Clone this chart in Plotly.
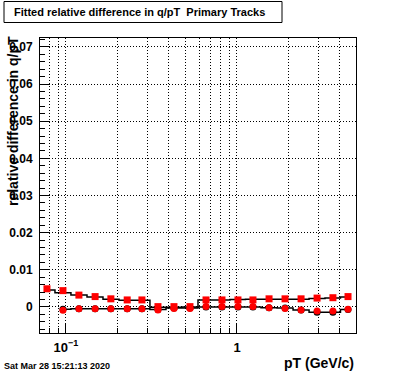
import plotly.graph_objects as go

# pT bin centres (GeV/c)
pt_sq = [0.0774, 0.096, 0.119, 0.148, 0.183, 0.228, 0.278, 0.345, 0.428, 0.531,
         0.659, 0.817, 1.013, 1.24, 1.54, 1.91, 2.37, 2.94, 3.64, 4.46]
pt_ci = pt_sq[1:]

# relative difference values
red_sq = [0.0049, 0.0044, 0.0032, 0.0028, 0.0022, 0.0019, 0.0019, 0.0001, 0.0001, 0.0001,
          0.0019, 0.0019, 0.0019, 0.0019, 0.0022, 0.0022, 0.0022, 0.0024, 0.0025, 0.0028]
blk_sq = [0.0046, 0.0038, 0.0032, 0.0027, 0.0021, 0.0018, 0.0018, -0.0001, -0.0001, 0.0000,
          0.0019, 0.0019, 0.0020, 0.0021, 0.0021, 0.0021, 0.0021, 0.0023, 0.0024, 0.0027]
red_ci = [-0.0009, -0.0005, -0.0005, -0.0005, -0.0005, -0.0005, -0.0008, -0.0004, -0.0004,
          0.0001, 0.0001, 0.0001, 0.0001, -0.0002, -0.0004, -0.0008, -0.0011, -0.0011, -0.0006]
blk_ci = [-0.0006, -0.0005, -0.0005, -0.0005, -0.0005, -0.0005, -0.0007, -0.0003, -0.0003,
          0.0000, 0.0000, 0.0000, 0.0000, -0.0002, -0.0003, -0.0008, -0.0014, -0.0014, -0.0007]

x_major = [0.1, 1]
x_major_text = ["10<sup>\u22121</sup>", "1"]
x_minor = [0.08, 0.09, 0.2, 0.3, 0.4, 0.5, 0.6, 0.7, 0.8, 0.9, 2, 3, 4]
y_major = [0, 0.01, 0.02, 0.03, 0.04, 0.05, 0.06, 0.07]
y_major_text = ["0", "0.01", "0.02", "0.03", "0.04", "0.05", "0.06", "0.07"]

title_text = "Fitted relative difference in q/pT\u00a0\u00a0Primary Tracks"
ytitle_text = "relative difference in q/pT"
xtitle_text = "pT (GeV/c)"
date_text = "Sat Mar 28 15:21:13 2020"

FONT = "Liberation Sans, Arial, Helvetica, sans-serif"
DOT = "1px,2px"

fig = go.Figure()
fig.add_trace(go.Scatter(x=pt_sq, y=blk_sq, mode="lines", line=dict(color="black", width=1.5, shape="hvh"),
                         showlegend=False, hoverinfo="skip"))
fig.add_trace(go.Scatter(x=pt_ci, y=blk_ci, mode="lines+markers", line=dict(color="black", width=1.5, shape="hvh"),
                         marker=dict(symbol="circle", size=7, color="black"),
                         showlegend=False, hoverinfo="skip"))
fig.add_trace(go.Scatter(x=pt_sq, y=red_sq, mode="markers",
                         marker=dict(symbol="square", size=7, color="#ff0000"), showlegend=False))
fig.add_trace(go.Scatter(x=pt_ci, y=red_ci, mode="markers",
                         marker=dict(symbol="circle", size=7, color="#ff0000"), showlegend=False))

W, H = 396, 372
L, R, T, B = 40, 40, 38, 39
pw, ph = W - L - R, H - T - B

def px(xp):
    return (xp - L) / pw

def py(yp):
    return (H - B - yp) / ph

fig.update_layout(
    width=W, height=H,
    margin=dict(l=L, r=R, t=T, b=B, pad=0, autoexpand=False),
    paper_bgcolor="white", plot_bgcolor="white",
    font=dict(family=FONT, color="black"),
    xaxis=dict(type="log", range=[-1.152, 0.696], automargin=False,
               tickmode="array", tickvals=x_major, ticktext=x_major_text,
               ticks="inside", ticklen=9, tickcolor="black", tickwidth=1,
               showgrid=True, gridcolor="black", griddash=DOT, gridwidth=1,
               minor=dict(tickmode="array", tickvals=x_minor, ticks="inside", ticklen=5,
                          tickcolor="black", showgrid=True, gridcolor="black", griddash=DOT, gridwidth=1),
               showline=True, linecolor="black", linewidth=1, mirror=True,
               tickfont=dict(size=13, weight="bold"), zeroline=False, ticklabelstandoff=2),
    yaxis=dict(range=[-0.0070, 0.0724], automargin=False,
               tickmode="array", tickvals=y_major, ticktext=y_major_text,
               ticks="inside", ticklen=9, tickcolor="black", tickwidth=1,
               showgrid=True, gridcolor="black", griddash=DOT, gridwidth=1,
               minor=dict(dtick=0.002, tick0=0, ticks="inside", ticklen=5, tickcolor="black", showgrid=False),
               showline=True, linecolor="black", linewidth=1, mirror=True,
               tickfont=dict(size=12, weight="bold"), zeroline=False, ticklabelstandoff=4),
    shapes=[dict(type="rect", xref="paper", yref="paper",
                 x0=px(4), x1=px(282), y0=py(22.5), y1=py(1.5),
                 line=dict(color="black", width=1), fillcolor="white", layer="above")],
    annotations=[
        dict(text=title_text, xref="paper", yref="paper", x=px(12), y=py(12.5),
             xanchor="left", yanchor="middle", showarrow=False,
             font=dict(size=11, weight="bold")),
        dict(text=ytitle_text, xref="paper", yref="paper", x=px(13), y=py(121),
             xanchor="center", yanchor="middle", textangle=-90, showarrow=False,
             font=dict(size=14, weight="bold")),
        dict(text=xtitle_text, xref="paper", yref="paper", x=px(356), y=py(363),
             xanchor="right", yanchor="middle", showarrow=False,
             font=dict(size=14, weight="bold")),
        dict(text=date_text, xref="paper", yref="paper", x=px(2), y=py(365.5),
             xanchor="left", yanchor="middle", showarrow=False,
             font=dict(size=9, weight="bold")),
    ],
)

fig.write_html("out.html", config={"displayModeBar": False},
               post_script="document.body.style.margin='0';document.body.style.padding='0';")
